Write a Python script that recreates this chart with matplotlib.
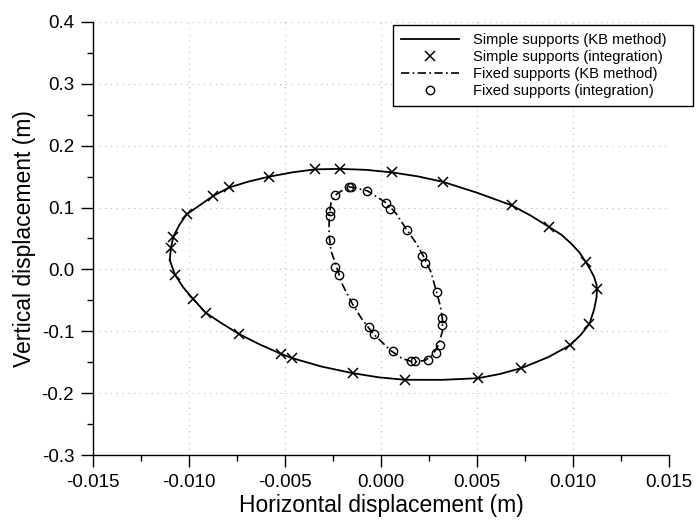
import matplotlib
matplotlib.use("Agg")
import matplotlib.pyplot as plt
from matplotlib.ticker import MultipleLocator, FormatStrFormatter

plt.rcParams['font.family'] = ['Liberation Sans', 'DejaVu Sans']
plt.rcParams['axes.unicode_minus'] = False

# Simple supports, KB method: closed orbit (horizontal, vertical) in metres
simple_kb_x = [-0.0110, -0.01094, -0.01081, -0.0105, -0.01012, -0.00874, -0.00790, -0.0069,
               -0.00585, -0.0046, -0.00341, -0.00213, -0.0008, 0.00056, 0.0019, 0.00323,
               0.0050, 0.0068, 0.0078, 0.00877, 0.0094, 0.0099, 0.01035, 0.01068,
               0.0109, 0.0111, 0.01123, 0.01125, 0.01123, 0.0111, 0.01086, 0.0104,
               0.00985, 0.0087, 0.00732, 0.0062, 0.00507, 0.0032, 0.00125, -0.0001,
               -0.00147, -0.0031, -0.00463, -0.00519, -0.0063, -0.00741, -0.0083, -0.00913,
               -0.00977, -0.0103, -0.01073, -0.0110]
simple_kb_y = [0.015, 0.0348, 0.0532, 0.0720, 0.0890, 0.1188, 0.1325, 0.1420,
               0.1498, 0.1570, 0.1618, 0.1625, 0.1610, 0.1569, 0.1505, 0.1416,
               0.1240, 0.1037, 0.0870, 0.0684, 0.0560, 0.0420, 0.0270, 0.0114,
               0.0000, -0.0120, -0.0250, -0.0319, -0.0450, -0.0650, -0.0879, -0.1060,
               -0.1226, -0.1420, -0.1595, -0.1690, -0.1758, -0.1785, -0.1784, -0.1745,
               -0.1677, -0.1570, -0.1433, -0.1367, -0.1215, -0.1042, -0.0870, -0.0700,
               -0.0482, -0.0290, -0.0086, 0.015]

# Simple supports, direct integration
simple_int_x = [-0.00341, -0.00213, 0.00056, 0.00323, -0.00585, -0.00790, -0.00874, -0.01012,
                -0.01081, -0.01094, -0.01073, -0.00977, -0.00913, -0.00741, -0.00519, -0.00463,
                -0.00147, 0.00125, 0.00507, 0.00732, 0.00985, 0.01086, 0.01125, 0.01068,
                0.00877, 0.00680]
simple_int_y = [0.1618, 0.1618, 0.1569, 0.1416, 0.1498, 0.1325, 0.1188, 0.0890,
                0.0532, 0.0348, -0.0086, -0.0482, -0.0700, -0.1042, -0.1367, -0.1433,
                -0.1677, -0.1784, -0.1758, -0.1595, -0.1226, -0.0879, -0.0319, 0.0114,
                0.0684, 0.1037]

# Fixed supports, KB method
fixed_kb_x = [-0.0017, -0.0007, 0.0003, 0.0008, 0.0013, 0.0018, 0.0022, 0.0026,
              0.0029, 0.0031, 0.0032, 0.0032, 0.0030, 0.0027, 0.0023, 0.0017,
              0.0011, 0.0005, -0.0004, -0.0010, -0.0015, -0.0020, -0.0023, -0.0026,
              -0.0027, -0.0027, -0.0026, -0.0023, -0.0017]
fixed_kb_y = [0.1340, 0.1270, 0.1070, 0.0900, 0.0660, 0.0440, 0.0220, -0.0040,
              -0.0370, -0.0600, -0.0800, -0.1000, -0.1220, -0.1380, -0.1470, -0.1500,
              -0.1440, -0.1310, -0.1040, -0.0800, -0.0550, -0.0250, 0.0030, 0.0300,
              0.0550, 0.0860, 0.1080, 0.1220, 0.1340]

# Fixed supports, direct integration
fixed_int_x = [-0.00168, -0.00156, -0.00237, -0.00073, 0.00026, 0.00048, -0.00268, -0.00268,
               0.00135, -0.00268, 0.00216, 0.00232, -0.00237, -0.00216, 0.00291, -0.00148,
               0.00317, 0.00317, -0.00064, -0.00035, 0.00305, 0.00285, 0.00247, 0.00061,
               0.00156, 0.00176]
fixed_int_y = [0.1325, 0.1332, 0.1195, 0.1265, 0.1070, 0.0983, 0.0939, 0.0858,
               0.0641, 0.0472, 0.0223, 0.0104, 0.0033, -0.0086, -0.0368, -0.0550,
               -0.0781, -0.0895, -0.0933, -0.1042, -0.1214, -0.1351, -0.1467, -0.1323,
               -0.1478, -0.1486]

labels = ["Simple supports (KB method)", "Simple supports (integration)",
          "Fixed supports (KB method)", "Fixed supports (integration)"]

fig = plt.figure(figsize=(6.99, 5.23), dpi=100)
ax = fig.add_axes([0.133, 0.130, 0.824, 0.828])

ax.plot(simple_kb_x, simple_kb_y, color='black', lw=1.3, solid_joinstyle='round',
        label=labels[0], zorder=3)
ax.plot(simple_int_x, simple_int_y, linestyle='none', marker='x', ms=7, mew=1.1,
        color='black', label=labels[1], zorder=4)
ax.plot(fixed_kb_x, fixed_kb_y, color='black', lw=1.2, linestyle=(0, (5, 2, 1, 2)),
        label=labels[2], zorder=3)
ax.plot(fixed_int_x, fixed_int_y, linestyle='none', marker='o', ms=6, mew=1.0,
        mfc='none', mec='black', label=labels[3], zorder=4)

ax.set_xlim(-0.015, 0.015)
ax.set_ylim(-0.3, 0.4)
ax.xaxis.set_major_locator(MultipleLocator(0.005))
ax.xaxis.set_minor_locator(MultipleLocator(0.0025))
ax.yaxis.set_major_locator(MultipleLocator(0.1))
ax.yaxis.set_minor_locator(MultipleLocator(0.05))
ax.xaxis.set_major_formatter(FormatStrFormatter('%.3f'))
ax.yaxis.set_major_formatter(FormatStrFormatter('%.1f'))

for side in ('top', 'right'):
    ax.spines[side].set_visible(False)
for side in ('left', 'bottom'):
    ax.spines[side].set_linewidth(1.0)

ax.tick_params(which='major', direction='out', length=8.5, width=1.0,
               labelsize=13.5, pad=5)
ax.tick_params(which='minor', direction='out', length=4.3, width=1.0)

ax.grid(True, which='major', color='#aaaaaa', lw=0.7, linestyle=(0, (1, 5)))
ax.set_axisbelow(True)

ax.set_xlabel("Horizontal displacement (m)", fontsize=16.5, labelpad=2)
ax.set_ylabel("Vertical displacement (m)", fontsize=16.5, labelpad=4)

# Legend box spans a fixed width in figure coordinates; entries stay left-aligned
leg = ax.legend(loc='upper left', bbox_to_anchor=(393 / 699, 0.0, 300 / 699, 1 - 25 / 523),
                bbox_transform=fig.transFigure, mode='expand', fontsize=10.6,
                frameon=True, fancybox=False, edgecolor='black', framealpha=1,
                numpoints=1, handlelength=3.9, handletextpad=1.0, labelspacing=0.2,
                borderpad=0.55, borderaxespad=0)
leg.get_frame().set_linewidth(1.0)

fig.savefig("out.png", dpi=100)
